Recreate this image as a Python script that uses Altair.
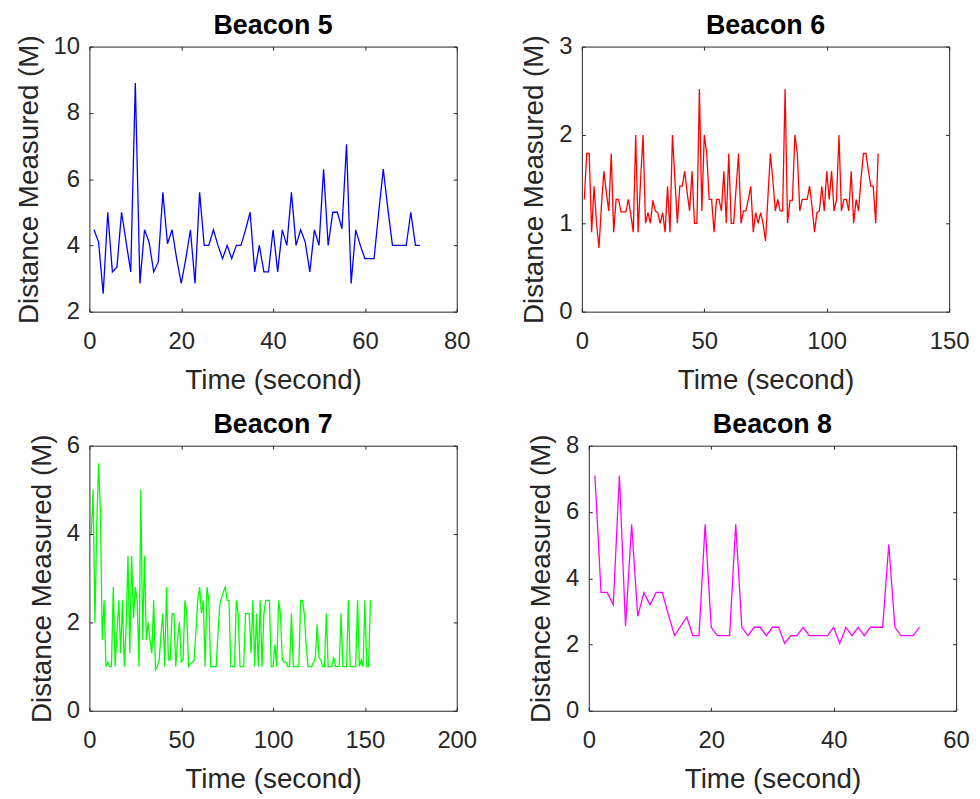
import altair as alt
import pandas as pd

# ---- data (distance readings, one per second, starting at t = 1) ----
beacon5 = [4.47, 4.1, 2.54, 5.0, 3.2, 3.35, 5.0, 4.1, 3.2, 8.9,
           2.85, 4.47, 4.1, 3.2, 3.5, 5.6, 4.05, 4.47, 3.6, 2.85,
           3.6, 4.47, 2.85, 5.6, 4.0, 4.0, 4.47, 4.0, 3.6, 4.0,
           3.6, 4.0, 4.0, 4.47, 5.0, 3.2, 4.0, 3.2, 3.2, 4.47,
           3.2, 4.47, 4.0, 5.6, 4.0, 4.47, 4.1, 3.2, 4.47, 4.0,
           6.3, 4.0, 5.0, 5.0, 4.5, 7.05, 2.85, 4.47, 4.0, 3.6,
           3.6, 3.6, 5.0, 6.3, 5.1, 4.0, 4.0, 4.0, 4.0, 5.0,
           4.0, 4.0]

beacon6 = [1.27, 1.79, 1.79, 0.90, 1.42, 1.0, 0.72, 1.2, 1.59, 1.35,
           1.14, 1.79, 0.90, 1.27, 1.27, 1.13, 1.13, 1.13, 1.27, 1.1,
           0.90, 2.0, 0.90, 1.5, 2.0, 1.0, 1.12, 1.0, 1.26, 1.14,
           1.12, 1.0, 1.12, 0.90, 1.42, 0.90, 2.0, 1.5, 1.0, 1.42,
           1.42, 1.59, 1.35, 1.14, 1.59, 1.0, 1.0, 2.52, 1.14, 2.0,
           1.79, 1.27, 1.27, 0.90, 1.27, 1.27, 1.14, 1.59, 1.0, 1.79,
           1.0, 1.0, 1.4, 1.79, 1.0, 1.14, 1.14, 1.27, 1.42, 0.90,
           1.12, 1.0, 1.12, 1.0, 0.80, 1.3, 1.79, 1.49, 1.14, 1.27,
           1.14, 1.14, 2.52, 1.0, 1.26, 1.26, 2.0, 1.79, 1.14, 1.27,
           1.27, 1.27, 1.42, 1.19, 0.90, 1.12, 1.14, 1.42, 1.14, 1.59,
           1.27, 1.59, 1.14, 1.27, 2.0, 1.14, 1.27, 1.27, 1.14, 1.59,
           1.0, 1.27, 1.14, 1.5, 1.79, 1.79, 1.6, 1.42, 1.42, 1.0,
           1.79]

beacon7 = [4.0, 5.0, 2.0, 4.2, 5.6, 4.5, 1.6, 2.5, 1.0, 1.1,
           1.0, 1.0, 2.8, 1.0, 1.75, 2.5, 1.3, 2.5, 1.0, 1.9,
           3.5, 1.3, 3.5, 2.1, 2.8, 2.5, 1.0, 5.0, 1.6, 3.5,
           1.6, 2.0, 1.6, 1.3, 2.5, 0.93, 1.0, 1.15, 1.75, 2.2,
           1.0, 2.8, 1.15, 1.15, 2.2, 2.2, 1.0, 1.6, 2.0, 1.1,
           1.15, 2.5, 2.2, 1.0, 1.07, 1.1, 1.15, 1.8, 2.5, 2.8,
           2.2, 2.5, 1.0, 2.8, 2.5, 1.0, 1.0, 1.0, 1.0, 1.75,
           2.4, 2.56, 2.7, 2.8, 2.5, 2.5, 1.0, 1.0, 1.0, 2.5,
           2.2, 1.0, 1.0, 1.0, 2.2, 2.2, 2.2, 1.3, 2.5, 1.0,
           2.2, 1.0, 2.5, 1.0, 2.2, 2.5, 2.5, 2.5, 1.0, 1.0,
           1.5, 1.0, 2.5, 2.2, 1.15, 1.1, 1.1, 1.0, 1.0, 2.2,
           1.0, 1.0, 1.0, 1.0, 2.5, 2.5, 2.2, 1.5, 1.0, 1.0,
           1.0, 1.1, 1.2, 1.96, 1.2, 1.15, 1.0, 1.0, 2.2, 1.0,
           1.0, 1.0, 1.22, 1.0, 1.0, 1.0, 2.2, 1.0, 1.0, 1.0,
           2.5, 1.0, 1.0, 1.0, 1.0, 2.5, 1.0, 1.15, 1.0, 2.5,
           1.0, 1.0, 2.5]

beacon8 = [7.1, 3.57, 3.57, 3.2, 7.1, 2.55, 5.63, 2.85, 3.57, 3.2,
           3.57, 3.57, 2.9, 2.27, 2.55, 2.83, 2.27, 2.27, 5.63, 2.52,
           2.27, 2.27, 2.27, 5.63, 2.52, 2.27, 2.52, 2.52, 2.27, 2.52,
           2.52, 2.03, 2.27, 2.27, 2.52, 2.27, 2.27, 2.27, 2.27, 2.52,
           2.03, 2.52, 2.27, 2.52, 2.27, 2.52, 2.52, 2.52, 5.02, 2.52,
           2.27, 2.27, 2.27, 2.52]

titles = ["Beacon 5", "Beacon 6", "Beacon 7", "Beacon 8"]
series = [beacon5, beacon6, beacon7, beacon8]
colors = ["#0000FF", "#FF0000", "#00FF00", "#FF00FF"]
x_ticks = [[0, 20, 40, 60, 80], [0, 50, 100, 150], [0, 50, 100, 150, 200], [0, 20, 40, 60]]
y_ticks = [[2, 4, 6, 8, 10], [0, 1, 2, 3], [0, 2, 4, 6], [0, 2, 4, 6, 8]]

FONT = "Liberation Sans"
TICK = 3.5
W, H = 370, 267


def panel(i):
    vals = series[i]
    df = pd.DataFrame({"t": list(range(1, len(vals) + 1)), "d": vals})
    xt, yt = x_ticks[i], y_ticks[i]
    xs = alt.Scale(domain=[xt[0], xt[-1]], nice=False, zero=False)
    ys = alt.Scale(domain=[yt[0], yt[-1]], nice=False, zero=False)
    common = dict(grid=False, domain=False, tickSize=TICK, offset=-TICK,
                  tickColor="#262626", tickWidth=1, labelFlush=False,
                  labelOverlap=False)
    line = alt.Chart(df).mark_line(color=colors[i], strokeWidth=1.3, clip=True).encode(
        x=alt.X("t:Q", scale=xs, axis=alt.Axis(values=xt, orient="bottom",
                title="Time (second)", labelPadding=18, titlePadding=13, **common)),
        y=alt.Y("d:Q", scale=ys, axis=alt.Axis(values=yt, orient="left",
                title="Distance Measured (M)", labelPadding=10, titlePadding=10, **common)),
    )
    ghost = alt.Chart(df).mark_line(opacity=0).encode(
        x=alt.X("t:Q", scale=xs, axis=alt.Axis(values=xt, orient="top", labels=False,
                title="", **common)),
        y=alt.Y("d:Q", scale=ys, axis=alt.Axis(values=yt, orient="right", labels=False,
                title="", **common)),
    )
    return alt.layer(line, ghost).resolve_axis(x="independent", y="independent").properties(
        width=W, height=H,
        title=alt.TitleParams(titles[i], fontSize=27, fontWeight="bold", font=FONT,
                              color="#000000", anchor="middle", offset=-5),
    )


row1 = alt.hconcat(panel(0), panel(1), spacing=50)
row2 = alt.hconcat(panel(2), panel(3), spacing=50)
chart = alt.vconcat(row1, row2, spacing=15).properties(
    padding={"top": 0, "left": 6, "right": 2, "bottom": 0}
).configure_view(
    stroke="#262626", strokeWidth=1
).configure_axis(
    labelFont=FONT, labelFontSize=24, labelColor="#262626",
    titleFont=FONT, titleFontSize=28, titleColor="#262626", titleFontWeight="normal",
)

chart.save("out.html", embed_options={"renderer": "svg", "actions": False})
